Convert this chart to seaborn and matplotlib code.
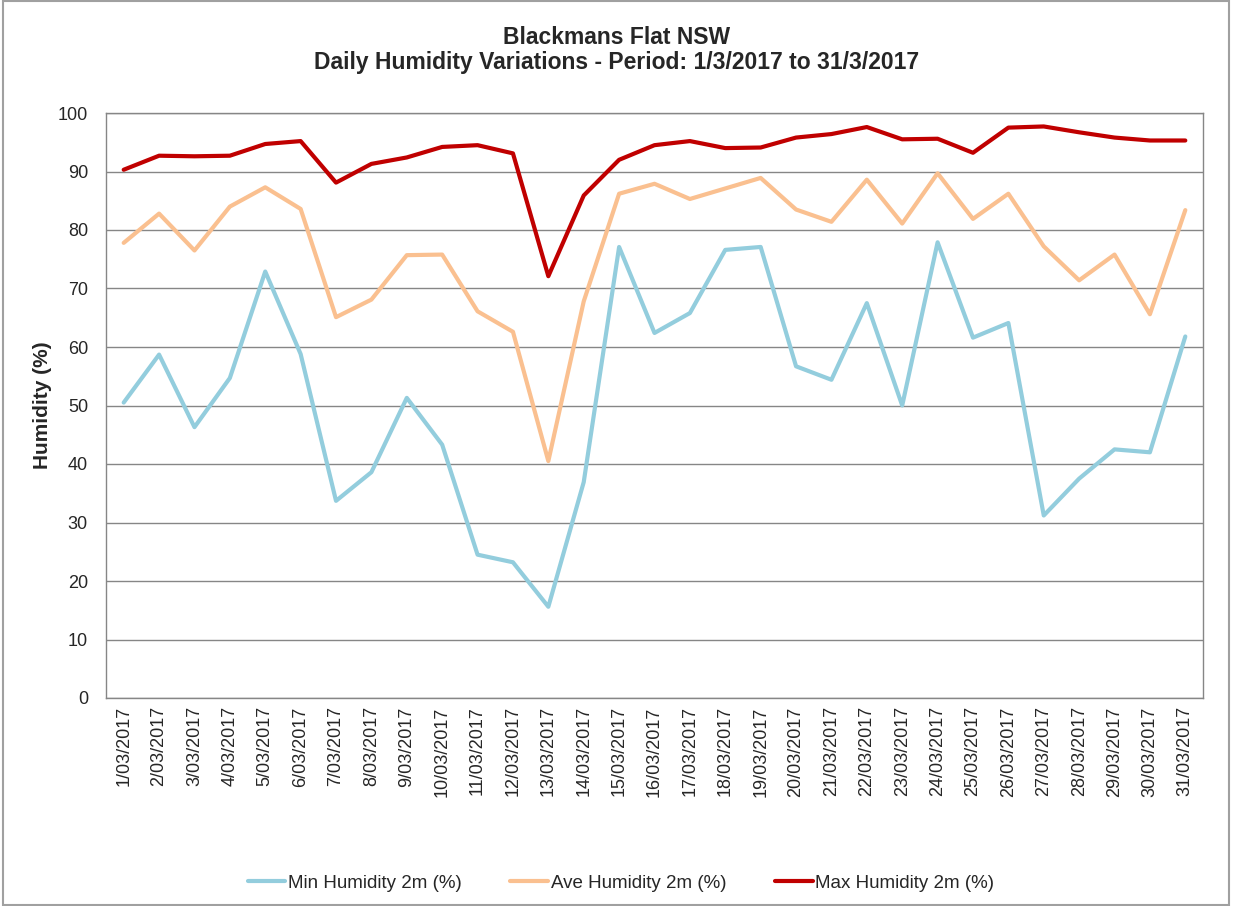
import matplotlib
matplotlib.use("Agg")
import matplotlib.pyplot as plt
import seaborn as sns
import pandas as pd
from matplotlib.patches import Rectangle
from matplotlib.ticker import FixedLocator, MultipleLocator

dates = [f"{d}/03/2017" for d in range(1, 32)]
min_hum = [50.5, 58.7, 46.3, 54.7, 72.9, 58.8, 33.7, 38.6, 51.3, 43.3, 24.5, 23.2, 15.6, 36.9, 77.1,
           62.4, 65.8, 76.6, 77.1, 56.7, 54.4, 67.5, 50.0, 77.9, 61.6, 64.1, 31.2, 37.5, 42.5, 42.0, 61.8]
ave_hum = [77.8, 82.8, 76.5, 84.0, 87.3, 83.6, 65.1, 68.1, 75.7, 75.8, 66.1, 62.6, 40.5, 67.8, 86.2,
           87.9, 85.3, 87.1, 88.9, 83.5, 81.4, 88.6, 81.1, 89.7, 81.9, 86.2, 77.2, 71.4, 75.8, 65.6, 83.4]
max_hum = [90.3, 92.7, 92.6, 92.7, 94.7, 95.2, 88.1, 91.3, 92.4, 94.2, 94.5, 93.1, 72.1, 85.9, 92.0,
           94.5, 95.2, 94.0, 94.1, 95.8, 96.4, 97.6, 95.5, 95.6, 93.2, 97.5, 97.7, 96.7, 95.8, 95.3, 95.3]
series_names = ["Min Humidity 2m (%)", "Ave Humidity 2m (%)", "Max Humidity 2m (%)"]
colors = ["#93CDDD", "#FAC090", "#C00000"]

df = pd.DataFrame({"Date": dates, series_names[0]: min_hum, series_names[1]: ave_hum, series_names[2]: max_hum})
long = df.melt(id_vars="Date", var_name="Series", value_name="Humidity")
long["x"] = long["Date"].map({d: i for i, d in enumerate(dates)})

sns.set_style("white")
plt.rcParams["font.family"] = ["Liberation Sans", "DejaVu Sans"]

fig = plt.figure(figsize=(12.34, 9.06), dpi=100)
ax = fig.add_axes([106/1234, 1 - 698/906, (1203 - 106)/1234, (698 - 113)/906])

sns.lineplot(data=long, x="x", y="Humidity", hue="Series", hue_order=series_names,
             palette=colors, linewidth=3, sort=False, ax=ax, legend=True)

ax.set_xlim(-0.5, len(dates) - 0.5)
ax.set_ylim(0, 100)
ax.yaxis.set_major_locator(MultipleLocator(10))
ax.set_xticks(range(len(dates)))
ax.set_xticklabels(dates, rotation=90, fontsize=13)
ax.xaxis.set_minor_locator(FixedLocator([i - 0.5 for i in range(len(dates) + 1)]))
ax.tick_params(axis="x", which="major", length=0, pad=6)
ax.tick_params(axis="x", which="minor", length=5, width=1, color="#868686", direction="out")
ax.tick_params(axis="y", which="major", length=5, width=1, color="#868686", direction="out",
               labelsize=13, pad=8)
ax.grid(axis="y", color="#868686", linewidth=1)
ax.grid(axis="x", visible=False)
for s in ax.spines.values():
    s.set_color("#868686")
    s.set_linewidth(1)
ax.set_xlabel("")
ax.set_ylabel("Humidity (%)", fontsize=15, fontweight="bold", va="center")
ax.yaxis.set_label_coords((42 - 106) / 1097, 0.5)

fig.text(0.5, 1 - 37/906, "Blackmans Flat NSW", ha="center", va="center",
         fontsize=16.5, fontweight="bold")
fig.text(0.5, 1 - 63/906, "Daily Humidity Variations - Period: 1/3/2017 to 31/3/2017",
         ha="center", va="center", fontsize=16.5, fontweight="bold")

handles, labels = ax.get_legend_handles_labels()
ax.legend_.remove()
fig.legend(handles, labels, loc="center", bbox_to_anchor=(621/1234, 1 - 883/906), ncol=3,
           frameon=False, fontsize=13.5, handlelength=2.0, handletextpad=0.15, columnspacing=2.6)

fig.patches.append(Rectangle((3/1234, 1/906), 1226/1234, 904/906, transform=fig.transFigure,
                             fill=False, edgecolor="#A0A0A0", linewidth=1.5))

fig.savefig("out.png", dpi=100)
